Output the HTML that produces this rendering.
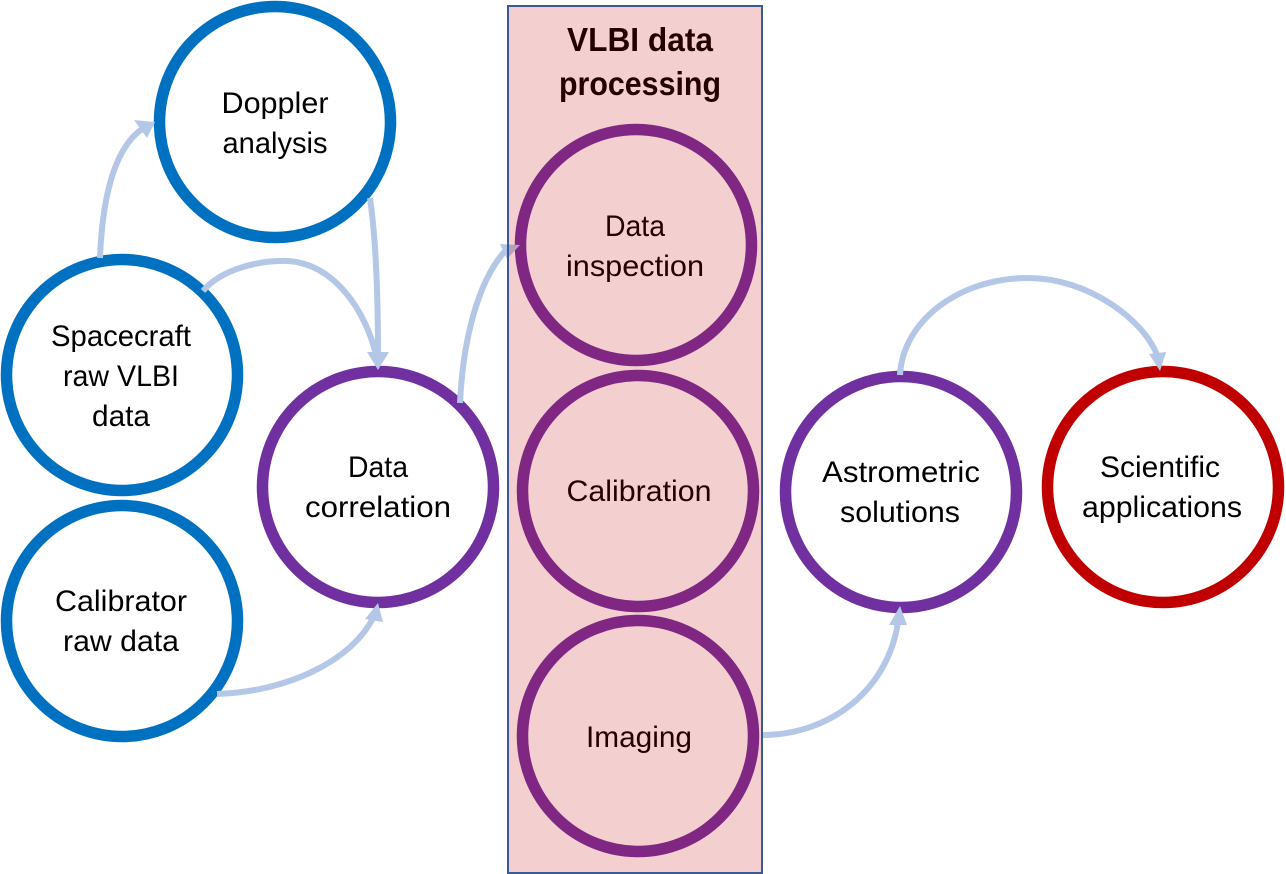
<!DOCTYPE html>
<html>
<head>
<meta charset="utf-8">
<style>
html,body{margin:0;padding:0;background:#fff;width:1286px;height:874px;overflow:hidden}
svg{display:block}
text{font-family:"Liberation Sans",sans-serif;font-size:30px;fill:#000;text-anchor:middle}
.b{font-weight:bold;font-size:33px}
</style>
</head>
<body>
<svg width="1286" height="874" viewBox="0 0 1286 874" xmlns="http://www.w3.org/2000/svg">
<g fill="none" stroke-width="11.5">
<circle cx="275" cy="122" r="115.5" stroke="#0070C0"/>
<circle cx="122" cy="375" r="115.5" stroke="#0070C0"/>
<circle cx="122" cy="621" r="115.5" stroke="#0070C0"/>
<circle cx="378" cy="487" r="115.5" stroke="#7030A0"/>
<circle cx="636" cy="245" r="115.5" stroke="#7030A0"/>
<circle cx="638" cy="491" r="115.5" stroke="#7030A0"/>
<circle cx="638" cy="736" r="115.5" stroke="#7030A0"/>
<circle cx="901" cy="492" r="115.5" stroke="#7030A0"/>
<circle cx="1163" cy="487" r="115.5" stroke="#C00000"/>
</g>
<g fill="none" stroke="#B4C7E7" stroke-width="6">
<path d="M100 258 C102 205 112 150 142 129"/>
<path d="M370 198 C376 240 378 300 378 355"/>
<path d="M203 291 C222 268 262 260 288 261 C335 264 366 312 376 355"/>
<path d="M217 694 C285 692 352 662 374 616"/>
<path d="M460 403 C463 340 478 280 506 250"/>
<path d="M762 735 C830 735 888 690 898 622"/>
<path d="M900 375 C903 320 960 278 1028 278 C1090 278 1145 322 1157 355"/>
</g>
<g fill="#B4C7E7">
<polygon points="155,122 134,120 147,138"/>
<polygon points="378,370 367,352 389,352"/>
<polygon points="378,603 365,619 383,622"/>
<polygon points="520,245 500,244 507,259"/>
<polygon points="900,606 889,625 907,625"/>
<polygon points="1160,371 1149,354 1166,352"/>
</g>
<text x="275" y="113" textLength="107" lengthAdjust="spacingAndGlyphs">Doppler</text>
<text x="275" y="153" textLength="105" lengthAdjust="spacingAndGlyphs">analysis</text>
<text x="121" y="346" textLength="140" lengthAdjust="spacingAndGlyphs">Spacecraft</text>
<text x="121" y="386" textLength="116" lengthAdjust="spacingAndGlyphs">raw VLBI</text>
<text x="121" y="426" textLength="58" lengthAdjust="spacingAndGlyphs">data</text>
<text x="121" y="611" textLength="132" lengthAdjust="spacingAndGlyphs">Calibrator</text>
<text x="121" y="651" textLength="116" lengthAdjust="spacingAndGlyphs">raw data</text>
<text x="378" y="477" textLength="60" lengthAdjust="spacingAndGlyphs">Data</text>
<text x="378" y="517" textLength="146" lengthAdjust="spacingAndGlyphs">correlation</text>
<text x="635" y="236" textLength="60" lengthAdjust="spacingAndGlyphs">Data</text>
<text x="635" y="276" textLength="138" lengthAdjust="spacingAndGlyphs">inspection</text>
<text x="639" y="501" textLength="145" lengthAdjust="spacingAndGlyphs">Calibration</text>
<text x="639" y="747" textLength="106" lengthAdjust="spacingAndGlyphs">Imaging</text>
<text x="901" y="482" textLength="158" lengthAdjust="spacingAndGlyphs">Astrometric</text>
<text x="900" y="522" textLength="120" lengthAdjust="spacingAndGlyphs">solutions</text>
<text x="1160" y="477" textLength="120" lengthAdjust="spacingAndGlyphs">Scientific</text>
<text x="1162" y="517" textLength="160" lengthAdjust="spacingAndGlyphs">applications</text>
<text class="b" x="640" y="51" textLength="146" lengthAdjust="spacingAndGlyphs">VLBI data</text>
<text class="b" x="640" y="95" textLength="162" lengthAdjust="spacingAndGlyphs">processing</text>
<rect x="508" y="6" width="254" height="867" fill="#C00000" fill-opacity="0.19" stroke="#2F528F" stroke-width="2" stroke-opacity="0.95"/>
</svg>
</body>
</html>
